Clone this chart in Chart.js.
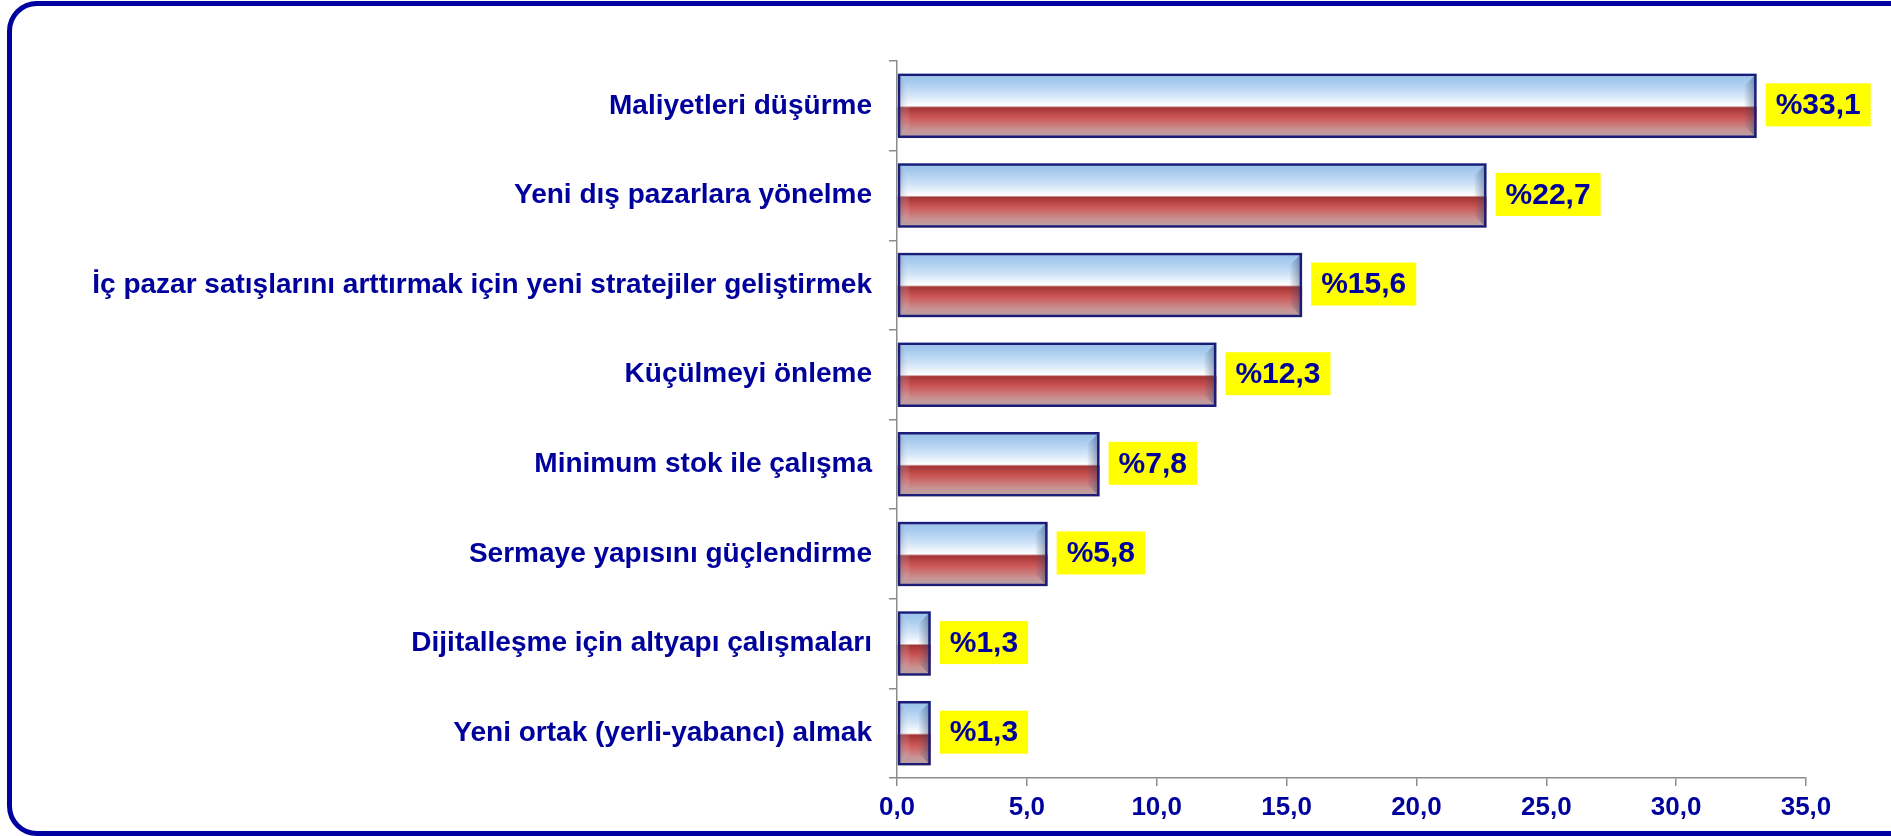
<!DOCTYPE html>
<html lang="tr">
<head>
    <meta charset="UTF-8">
    <title>Stratejiler</title>
    <script src="https://cdn.jsdelivr.net/npm/chart.js"></script>
    <style>
        body {
            margin: 0;
            padding: 0;
            background: #fff;
            overflow: hidden;
        }

        /* rounded frame around the chart */
        .frame {
            position: absolute;
            left: 7px;
            top: 1px;
            width: 1920px;
            height: 825px;
            border: 5px solid #0000a0;
            border-radius: 30px;
        }

        .chart-box {
            position: absolute;
            left: 0;
            top: 0;
            width: 1891px;
            height: 836px;
        }
    </style>
</head>
<body>
    <div class="frame"></div>
    <div class="chart-box">
        <canvas id="stratejiChart" width="1891" height="836"></canvas>
    </div>

    <script>
        // Categories and values
        const categories = [
            "Maliyetleri düşürme",
            "Yeni dış pazarlara yönelme",
            "İç pazar satışlarını arttırmak için yeni stratejiler geliştirmek",
            "Küçülmeyi önleme",
            "Minimum stok ile çalışma",
            "Sermaye yapısını güçlendirme",
            "Dijitalleşme için altyapı çalışmaları",
            "Yeni ortak (yerli-yabancı) almak"
        ];
        const percentages = [33.1, 22.7, 15.6, 12.3, 7.8, 5.8, 1.3, 1.3];
        const axisMin = 0;
        const axisMax = 35;
        const axisStep = 5;

        const navy = '#00009c';
        const fontFamily = "'Liberation Sans', Arial, sans-serif";
        const fmt = (v, d) => v.toFixed(d).replace('.', ',');

        // Glossy blue/white/red fill with bevelled ends, painted under the bar borders
        const glossyBars = {
            id: 'glossyBars',
            beforeDatasetsDraw(chart) {
                const ctx = chart.ctx;
                chart.getDatasetMeta(0).data.forEach(bar => {
                    const { x, y, base, height } = bar.getProps(['x', 'y', 'base', 'height'], true);
                    const top = y - height / 2;
                    const bottom = y + height / 2;
                    const left = Math.min(base, x);
                    const right = Math.max(base, x);

                    const g = ctx.createLinearGradient(0, top, 0, bottom);
                    g.addColorStop(0, '#98bfe8');
                    g.addColorStop(0.15, '#aacdf0');
                    g.addColorStop(0.32, '#cde2f6');
                    g.addColorStop(0.5, '#ffffff');
                    g.addColorStop(0.53, '#a33434');
                    g.addColorStop(0.68, '#cc5656');
                    g.addColorStop(0.87, '#c99292');
                    g.addColorStop(1, '#b5a5a8');
                    ctx.save();
                    ctx.fillStyle = g;
                    ctx.fillRect(left, top, right - left, bottom - top);

                    // bevel on the ends
                    const b = Math.min(12, (right - left) / 2, height / 2);
                    const rg = ctx.createLinearGradient(right - b, 0, right, 0);
                    rg.addColorStop(0, 'rgba(60,80,120,0.05)');
                    rg.addColorStop(1, 'rgba(40,55,95,0.5)');
                    ctx.fillStyle = rg;
                    ctx.beginPath();
                    ctx.moveTo(right, top);
                    ctx.lineTo(right - b, top + b);
                    ctx.lineTo(right - b, bottom - b);
                    ctx.lineTo(right, bottom);
                    ctx.closePath();
                    ctx.fill();

                    const lg = ctx.createLinearGradient(left, 0, left + b, 0);
                    lg.addColorStop(0, 'rgba(70,90,140,0.4)');
                    lg.addColorStop(1, 'rgba(255,255,255,0.05)');
                    ctx.fillStyle = lg;
                    ctx.beginPath();
                    ctx.moveTo(left, top);
                    ctx.lineTo(left + b, top + b);
                    ctx.lineTo(left + b, bottom - b);
                    ctx.lineTo(left, bottom);
                    ctx.closePath();
                    ctx.fill();
                    ctx.restore();
                });
            }
        };

        // Yellow value boxes to the right of the bars
        const valueBoxes = {
            id: 'valueBoxes',
            afterDatasetsDraw(chart) {
                const ctx = chart.ctx;
                const values = chart.data.datasets[0].data;
                ctx.save();
                ctx.font = 'bold 30px ' + fontFamily;
                ctx.textBaseline = 'middle';
                chart.getDatasetMeta(0).data.forEach((bar, i) => {
                    const { x, y } = bar.getProps(['x', 'y'], true);
                    const text = '%' + fmt(values[i], 1);
                    const w = ctx.measureText(text).width + 20;
                    const h = 43;
                    const bx = x + 9;
                    const by = y - h / 2 - 1;
                    ctx.fillStyle = '#ffff00';
                    ctx.fillRect(bx, by, w, h);
                    ctx.fillStyle = navy;
                    ctx.fillText(text, bx + 10, by + h / 2 + 1);
                });
                ctx.restore();
            }
        };

        const ctx = document.getElementById('stratejiChart').getContext('2d');
        const stratejiChart = new Chart(ctx, {
            type: 'bar',
            data: {
                labels: categories,
                datasets: [{
                    data: percentages,
                    backgroundColor: 'rgba(0,0,0,0)',
                    borderColor: '#1c1c78',
                    borderWidth: 2.5,
                    borderSkipped: false,
                    barPercentage: 0.72,
                    categoryPercentage: 1
                }]
            },
            options: {
                indexAxis: 'y',
                responsive: false,
                animation: false,
                layout: {
                    padding: { top: 61, right: 85, left: 0, bottom: 0 }
                },
                plugins: {
                    legend: { display: false },
                    tooltip: { enabled: false }
                },
                scales: {
                    x: {
                        min: axisMin,
                        max: axisMax,
                        afterFit: (scale) => { scale.height = 58; },
                        border: { display: true, color: '#8c8c8c', width: 1.5 },
                        grid: {
                            drawOnChartArea: false,
                            drawTicks: true,
                            tickLength: 8,
                            color: '#8c8c8c',
                            lineWidth: 1.5
                        },
                        ticks: {
                            stepSize: axisStep,
                            padding: 6,
                            color: navy,
                            font: { family: fontFamily, size: 26, weight: 'bold' },
                            callback: (v) => fmt(v, 1)
                        }
                    },
                    y: {
                        afterFit: (scale) => { scale.width = 897; },
                        border: { display: true, color: '#8c8c8c', width: 1.5 },
                        grid: {
                            drawOnChartArea: false,
                            drawTicks: true,
                            tickLength: 8,
                            color: '#8c8c8c',
                            lineWidth: 1.5
                        },
                        ticks: {
                            padding: 17,
                            color: navy,
                            font: { family: fontFamily, size: 28, weight: 'bold' }
                        }
                    }
                }
            },
            plugins: [glossyBars, valueBoxes]
        });
    </script>
</body>
</html>
